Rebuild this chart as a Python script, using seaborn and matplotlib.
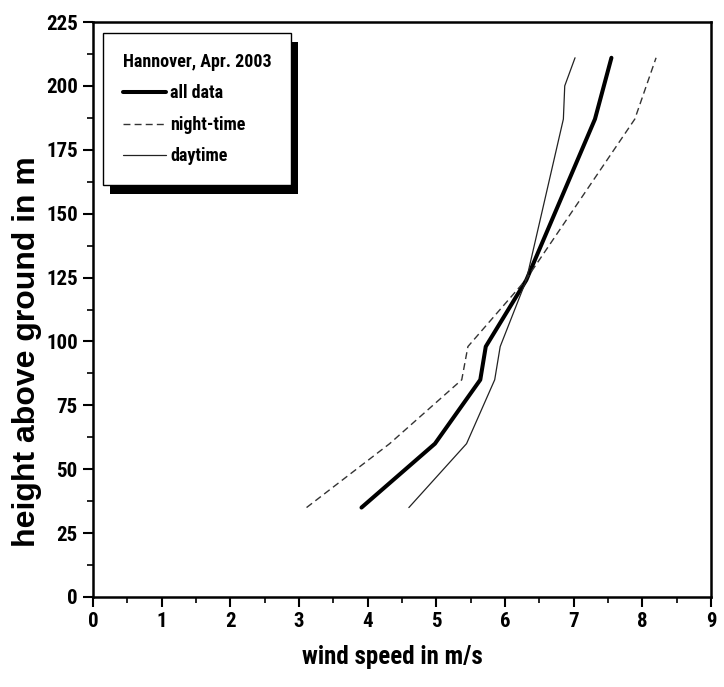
import matplotlib
matplotlib.use("Agg")
import matplotlib.pyplot as plt
from matplotlib.patches import Rectangle
from matplotlib.transforms import IdentityTransform
from matplotlib.ticker import MultipleLocator
import seaborn as sns
import pandas as pd

# ---- data ----
all_height = [35, 60, 85, 98, 124, 187, 211]
all_speed = [3.91, 4.98, 5.64, 5.72, 6.31, 7.31, 7.55]

night_height = [35, 60, 85, 98, 124, 187, 211]
night_speed = [3.11, 4.32, 5.37, 5.46, 6.30, 7.89, 8.20]

day_height = [35, 60, 85, 98, 124, 187, 200, 211]
day_speed = [4.60, 5.44, 5.85, 5.93, 6.31, 6.85, 6.87, 7.02]

legend_title = "Hannover, Apr. 2003"
labels = ["all data", "night-time", "daytime"]
x_label = "wind speed in m/s"
y_label = "height above ground in m"

sns.set_theme(style="ticks")
plt.rcParams['font.family'] = ['Roboto Condensed', 'Liberation Sans', 'DejaVu Sans']

fig = plt.figure(figsize=(7.24, 6.87), dpi=100)
ax = fig.add_axes([93/724, (687-597)/687, (711-93)/724, (597-22)/687])

df_all = pd.DataFrame({"speed": all_speed, "height": all_height})
df_night = pd.DataFrame({"speed": night_speed, "height": night_height})
df_day = pd.DataFrame({"speed": day_speed, "height": day_height})

sns.lineplot(data=df_all, x="speed", y="height", sort=False, estimator=None,
             color="black", linewidth=2.9, ax=ax, label=labels[0])
sns.lineplot(data=df_night, x="speed", y="height", sort=False, estimator=None,
             color="#333333", linewidth=1.0, ax=ax, label=labels[1],
             linestyle=(0, (5, 3)))
sns.lineplot(data=df_day, x="speed", y="height", sort=False, estimator=None,
             color="#222222", linewidth=0.9, ax=ax, label=labels[2])

ax.set_xlim(0, 9)
ax.set_ylim(0, 225)
ax.xaxis.set_major_locator(MultipleLocator(1))
ax.xaxis.set_minor_locator(MultipleLocator(0.5))
ax.yaxis.set_major_locator(MultipleLocator(25))
ax.yaxis.set_minor_locator(MultipleLocator(12.5))
ax.tick_params(which="major", direction="out", length=7, width=1.5,
               labelsize=15, pad=4, color="black", labelcolor="black")
ax.tick_params(which="minor", direction="out", length=4, width=1.2, color="black")
for lab in ax.get_xticklabels() + ax.get_yticklabels():
    lab.set_fontweight("bold")
for sp in ax.spines.values():
    sp.set_visible(True)
    sp.set_linewidth(1.8)
    sp.set_color("black")

ax.set_xlabel(x_label, fontsize=18, fontweight="bold", color="black")
ax.xaxis.set_label_coords((392 - 93) / 618, -(669 - 597) / 575)
ax.xaxis.label.set_va("bottom")
ax.set_ylabel(y_label, fontsize=23, fontweight="bold",
              family=["Liberation Sans", "DejaVu Sans"], color="black")
ax.yaxis.set_label_coords((42 - 93) / 618, (597 - 352) / 575)

leg = ax.legend(loc="upper left", bbox_to_anchor=(10 / 618, (597 - 33) / 575),
                title=legend_title,
                frameon=True, fancybox=False, edgecolor="black", framealpha=1,
                fontsize=13, title_fontsize=13, handlelength=2.4,
                handletextpad=0.22, labelspacing=0.75, borderpad=1.1,
                borderaxespad=0, alignment="left")
leg.get_title().set_fontweight("bold")
for t in leg.get_texts():
    t.set_fontweight("bold")
    t.set_color("black")
leg.get_title().set_color("black")
leg.get_frame().set_linewidth(1.0)
leg.set_zorder(10)

fig.canvas.draw()
bb = leg.get_window_extent()
shadow = Rectangle((bb.x0 + 7, bb.y0 - 9), bb.width, bb.height,
                   transform=IdentityTransform(), facecolor="black",
                   edgecolor="none", zorder=9, clip_on=False)
ax.add_artist(shadow)

fig.savefig("out.png", dpi=100, facecolor="white")
